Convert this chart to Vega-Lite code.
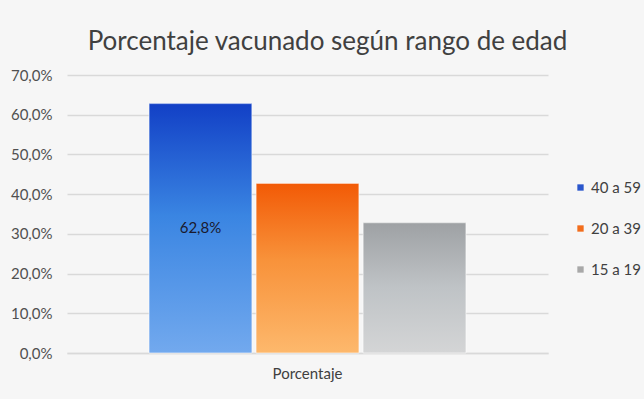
{
  "$schema": "https://vega.github.io/schema/vega-lite/v6.json",
  "width": 481,
  "height": 278,
  "autosize": "none",
  "padding": {"left": 67, "top": 75, "right": 96, "bottom": 46},
  "background": "#f6f6f6",
  "title": {
    "text": "Porcentaje vacunado según rango de edad",
    "font": "Lato",
    "fontSize": 26,
    "fontWeight": "normal",
    "color": "#404040",
    "anchor": "middle",
    "offset": 13,
    "dx": 20
  },
  "config": {
    "locale": {"number": {"decimal": ",", "thousands": ".", "grouping": [3], "currency": ["", " €"]}},
    "view": {"stroke": null},
    "font": "Lato"
  },
  "data": {
    "values": [
      {"categoria": "Porcentaje", "grupo": "40 a 59", "valor": 0.628},
      {"categoria": "Porcentaje", "grupo": "20 a 39", "valor": 0.427},
      {"categoria": "Porcentaje", "grupo": "15 a 19", "valor": 0.328}
    ]
  },
  "encoding": {
    "x": {
      "field": "categoria",
      "type": "nominal",
      "scale": {"paddingInner": 0, "paddingOuter": 0.259},
      "axis": {
        "title": null,
        "labelAngle": 0,
        "ticks": false,
        "domain": true,
        "domainColor": "#d9d9d9",
        "domainWidth": 1.5,
        "labelFont": "Lato",
        "labelFontSize": 15,
        "labelColor": "#404040",
        "labelPadding": 13
      }
    },
    "xOffset": {
      "field": "grupo",
      "type": "nominal",
      "scale": {"domain": ["40 a 59", "20 a 39", "15 a 19"], "paddingInner": 0.04}
    },
    "y": {
      "field": "valor",
      "type": "quantitative",
      "scale": {"domain": [0, 0.7], "nice": false},
      "axis": {
        "title": null,
        "format": ".1%",
        "values": [0, 0.1, 0.2, 0.3, 0.4, 0.5, 0.6, 0.7],
        "domain": false,
        "ticks": false,
        "gridColor": "#d9d9d9",
        "gridWidth": 1.5,
        "labelFont": "Lato",
        "labelFontSize": 15,
        "labelColor": "#505050",
        "labelPadding": 15
      }
    }
  },
  "layer": [
    {
      "mark": {"type": "bar"},
      "encoding": {
        "color": {
          "field": "grupo",
          "type": "nominal",
          "scale": {"domain": ["40 a 59", "20 a 39", "15 a 19"], "range": ["#2a56cc", "#f26d1c", "#a8a8a8"]},
          "legend": {
            "title": null,
            "orient": "none",
            "legendX": 506,
            "legendY": 105,
            "padding": 0,
            "symbolType": "square",
            "symbolSize": 40,
            "symbolStrokeWidth": 0,
            "labelFont": "Lato",
            "labelFontSize": 15,
            "labelColor": "#404040",
            "rowPadding": 25,
            "labelOffset": 3
          }
        }
      }
    },
    {
      "mark": {"type": "bar", "stroke": "#ffffff", "strokeOpacity": 0.6, "strokeWidth": 1},
      "encoding": {
        "fill": {
          "condition": [
            {
              "test": "datum.grupo === '40 a 59'",
              "value": {
                "gradient": "linear", "x1": 0, "y1": 0, "x2": 0, "y2": 1,
                "stops": [
                  {"offset": 0, "color": "#1240c6"},
                  {"offset": 0.45, "color": "#3a85e2"},
                  {"offset": 1, "color": "#72a9ee"}
                ]
              }
            },
            {
              "test": "datum.grupo === '20 a 39'",
              "value": {
                "gradient": "linear", "x1": 0, "y1": 0, "x2": 0, "y2": 1,
                "stops": [
                  {"offset": 0, "color": "#f25a06"},
                  {"offset": 0.45, "color": "#f8923a"},
                  {"offset": 1, "color": "#fdb86c"}
                ]
              }
            }
          ],
          "value": {
            "gradient": "linear", "x1": 0, "y1": 0, "x2": 0, "y2": 1,
            "stops": [
              {"offset": 0, "color": "#9ea1a4"},
              {"offset": 0.5, "color": "#bfc3c6"},
              {"offset": 1, "color": "#d4d5d6"}
            ]
          }
        }
      }
    },
    {
      "transform": [
        {"filter": "datum.grupo === '40 a 59'"},
        {"calculate": "datum.valor / 2", "as": "centro"}
      ],
      "mark": {"type": "text", "font": "Lato", "fontSize": 15, "color": "#1a1a2e", "baseline": "middle"},
      "encoding": {
        "y": {"field": "centro", "type": "quantitative"},
        "text": {"field": "valor", "type": "quantitative", "format": ".1%"}
      }
    }
  ]
}
